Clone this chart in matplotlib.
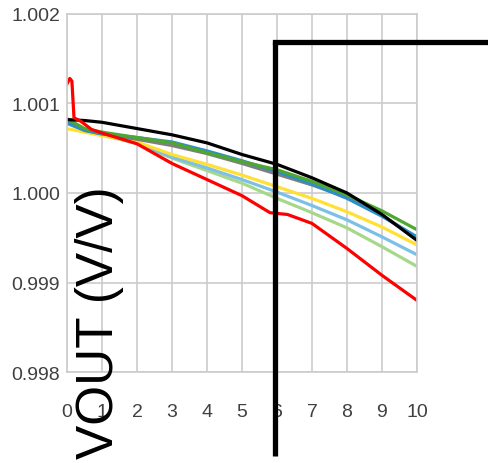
import matplotlib.pyplot as plt
from matplotlib.lines import Line2D

plt.rcParams['font.family'] = ['Liberation Sans', 'DejaVu Sans']
plt.rcParams['font.size'] = 14

# common x (time) for the smooth curves
x_v = [0, 0.5, 1, 2, 3, 4, 5, 6, 7, 8, 9, 10]

black = [1.00082, 1.00081, 1.00079, 1.00072, 1.00065, 1.00056, 1.00043, 1.00032, 1.00017, 1.00000, 0.99976, 0.99947]
green = [1.00083, 1.00072, 1.00068, 1.00062, 1.00056, 1.00045, 1.00035, 1.00026, 1.00013, 0.99998, 0.99980, 0.99959]
blue = [1.00078, 1.00070, 1.00066, 1.00062, 1.00057, 1.00047, 1.00036, 1.00024, 1.00010, 0.99994, 0.99974, 0.99951]
gray = [1.00080, 1.00070, 1.00066, 1.00060, 1.00053, 1.00044, 1.00033, 1.00021, 1.00009, 0.99995, 0.99975, 0.99950]
yellow = [1.00072, 1.00068, 1.00064, 1.00057, 1.00043, 1.00032, 1.00020, 1.00007, 0.99994, 0.99979, 0.99962, 0.99942]
light_blue = [1.00078, 1.00070, 1.00065, 1.00056, 1.00040, 1.00028, 1.00015, 1.00001, 0.99986, 0.99970, 0.99951, 0.99931]
light_green = [1.00080, 1.00071, 1.00065, 1.00055, 1.00039, 1.00025, 1.00011, 0.99994, 0.99978, 0.99961, 0.99940, 0.99918]

# red trace has the start-up spike
x_red = [0, 0.08, 0.14, 0.2, 0.4, 0.7, 1, 1.5, 2, 3, 4, 5, 5.8, 6.3, 7, 8, 9, 10]
red = [1.00122, 1.00128, 1.00125, 1.00084, 1.00080, 1.00071, 1.00067, 1.00061, 1.00055, 1.00033, 1.00015,
       0.99997, 0.99978, 0.99976, 0.99966, 0.99938, 0.99908, 0.99880]

x_ticks = list(range(0, 11))
y_ticks = [0.998, 0.999, 1.000, 1.001, 1.002]

fig = plt.figure(figsize=(4.88, 4.64), dpi=100)
ax = fig.add_axes([0.1373, 0.1961, 0.7172, 0.7716])

lw = 2.3
ax.plot(x_v, light_green, color='#a6d88c', lw=lw)
ax.plot(x_v, light_blue, color='#7cc0e8', lw=lw)
ax.plot(x_v, yellow, color='#ffe033', lw=lw)
ax.plot(x_v, gray, color='#7f7f7f', lw=lw)
ax.plot(x_v, blue, color='#2e8fc8', lw=lw)
ax.plot(x_v, green, color='#4ea72e', lw=lw)
ax.plot(x_v, black, color='#000000', lw=lw)
ax.plot(x_red, red, color='#ff0000', lw=lw)

ax.set_xlim(0, 10)
ax.set_ylim(0.998, 1.002)
ax.set_xticks(x_ticks)
ax.set_yticks(y_ticks)
ax.set_yticklabels(['%.3f' % v for v in y_ticks])
ax.tick_params(axis='both', length=0, colors='#404040', labelsize=14)
ax.tick_params(axis='x', pad=22)
ax.tick_params(axis='y', pad=5)
ax.grid(True, color='#cccccc', lw=1.2)
ax.set_axisbelow(True)
for s in ax.spines.values():
    s.set_color('#cccccc')
    s.set_linewidth(1.2)

fig.text(0.203, 0.304, 'VOUT (V/V)', rotation=90, ha='center', va='center', fontsize=37, color='black')

# stray bracket drawn over the plot
fig.add_artist(Line2D([0.5635, 0.5635], [0.0151, 0.9073], color='black', lw=3.8, solid_capstyle='butt'))
fig.add_artist(Line2D([0.5635, 1.0], [0.9073, 0.9073], color='black', lw=3.8, solid_capstyle='projecting'))

plt.savefig('out.png', dpi=100)
